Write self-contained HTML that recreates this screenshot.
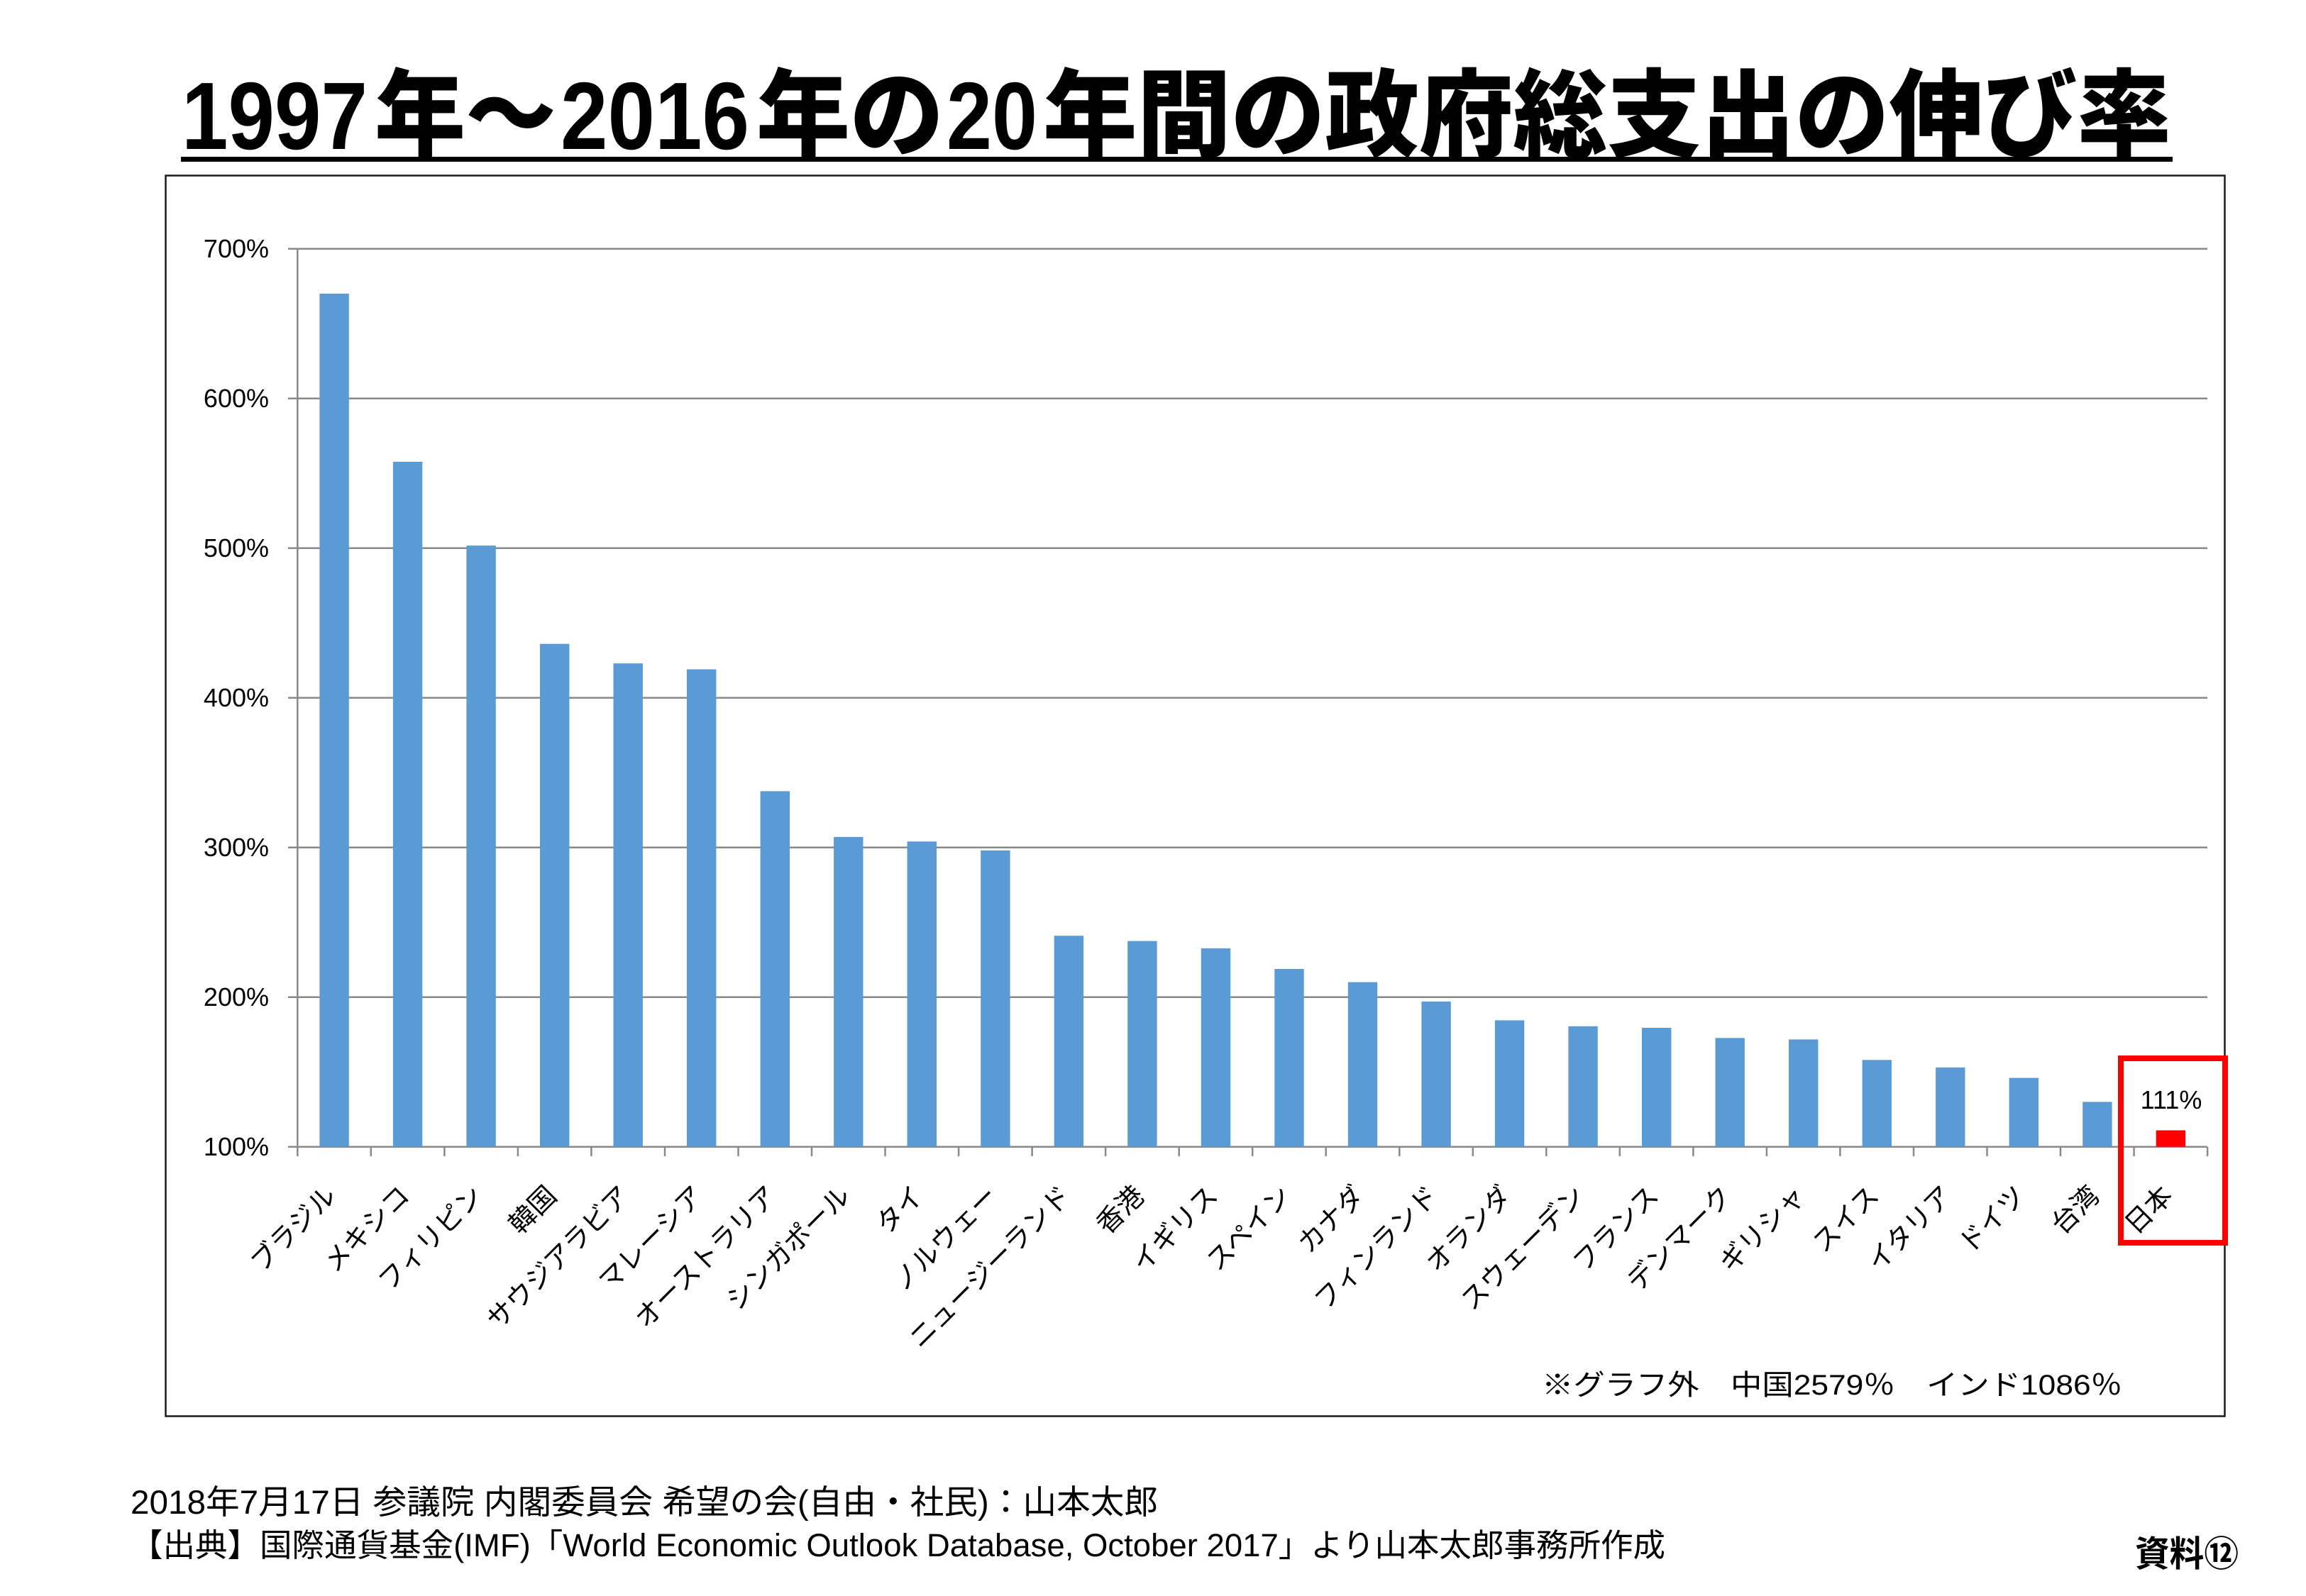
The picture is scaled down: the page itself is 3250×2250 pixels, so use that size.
<!DOCTYPE html>
<html><head><meta charset="utf-8"><style>
html,body{margin:0;padding:0;background:#fff;}
svg{display:block;}
</style></head><body>
<svg xmlns="http://www.w3.org/2000/svg" width="3250" height="2250" viewBox="0 0 3250 2250">
<rect x="0" y="0" width="3250" height="2250" fill="#fff"/>
<!-- Title -->
<g font-family="'Liberation Sans','Noto Sans CJK JP',sans-serif" font-weight="900" font-size="135" fill="#000">
<text x="256" y="210" textLength="262" lengthAdjust="spacingAndGlyphs">1997</text>
<text x="528" y="210" textLength="256" lengthAdjust="spacingAndGlyphs">年～</text>
<text x="790" y="210" textLength="266" lengthAdjust="spacingAndGlyphs">2016</text>
<text x="1066" y="210" textLength="264" lengthAdjust="spacingAndGlyphs">年の</text>
<text x="1334" y="210" textLength="128" lengthAdjust="spacingAndGlyphs">20</text>
<text x="1470" y="210" textLength="1590" lengthAdjust="spacingAndGlyphs">年間の政府総支出の伸び率</text>
</g>
<rect x="255" y="221" width="2807" height="7" fill="#000"/>
<!-- Frame -->
<rect x="233.5" y="247.5" width="2902" height="1749" fill="none" stroke="#1a1a1a" stroke-width="2.5"/>
<!-- Gridlines -->
<g stroke="#898989" stroke-width="2.5">
<line x1="406" y1="350.7" x2="3111" y2="350.7"/>
<line x1="406" y1="561.7" x2="3111" y2="561.7"/>
<line x1="406" y1="772.7" x2="3111" y2="772.7"/>
<line x1="406" y1="983.7" x2="3111" y2="983.7"/>
<line x1="406" y1="1194.7" x2="3111" y2="1194.7"/>
<line x1="406" y1="1405.7" x2="3111" y2="1405.7"/>
<line x1="406" y1="1616.7" x2="3111" y2="1616.7"/>
<line x1="419.3" y1="350.7" x2="419.3" y2="1630"/>
</g>
<!-- x ticks -->
<g stroke="#898989" stroke-width="2.5">
<line x1="522.8" y1="1617" x2="522.8" y2="1630"/>
<line x1="626.4" y1="1617" x2="626.4" y2="1630"/>
<line x1="729.9" y1="1617" x2="729.9" y2="1630"/>
<line x1="833.4" y1="1617" x2="833.4" y2="1630"/>
<line x1="937.0" y1="1617" x2="937.0" y2="1630"/>
<line x1="1040.5" y1="1617" x2="1040.5" y2="1630"/>
<line x1="1144.0" y1="1617" x2="1144.0" y2="1630"/>
<line x1="1247.5" y1="1617" x2="1247.5" y2="1630"/>
<line x1="1351.1" y1="1617" x2="1351.1" y2="1630"/>
<line x1="1454.6" y1="1617" x2="1454.6" y2="1630"/>
<line x1="1558.1" y1="1617" x2="1558.1" y2="1630"/>
<line x1="1661.7" y1="1617" x2="1661.7" y2="1630"/>
<line x1="1765.2" y1="1617" x2="1765.2" y2="1630"/>
<line x1="1868.7" y1="1617" x2="1868.7" y2="1630"/>
<line x1="1972.3" y1="1617" x2="1972.3" y2="1630"/>
<line x1="2075.8" y1="1617" x2="2075.8" y2="1630"/>
<line x1="2179.3" y1="1617" x2="2179.3" y2="1630"/>
<line x1="2282.8" y1="1617" x2="2282.8" y2="1630"/>
<line x1="2386.4" y1="1617" x2="2386.4" y2="1630"/>
<line x1="2489.9" y1="1617" x2="2489.9" y2="1630"/>
<line x1="2593.4" y1="1617" x2="2593.4" y2="1630"/>
<line x1="2697.0" y1="1617" x2="2697.0" y2="1630"/>
<line x1="2800.5" y1="1617" x2="2800.5" y2="1630"/>
<line x1="2904.0" y1="1617" x2="2904.0" y2="1630"/>
<line x1="3007.6" y1="1617" x2="3007.6" y2="1630"/>
<line x1="3111.1" y1="1617" x2="3111.1" y2="1630"/>
</g>
<!-- Bars -->
<g fill="#5B9BD5">
<rect x="450.4" y="414.0" width="41.4" height="1202.7"/>
<rect x="553.9" y="651.0" width="41.4" height="965.7"/>
<rect x="657.4" y="769.1" width="41.4" height="847.6"/>
<rect x="761.0" y="907.7" width="41.4" height="709.0"/>
<rect x="864.5" y="935.2" width="41.4" height="681.5"/>
<rect x="968.0" y="943.6" width="41.4" height="673.1"/>
<rect x="1071.6" y="1115.4" width="41.4" height="501.3"/>
<rect x="1175.1" y="1179.9" width="41.4" height="436.8"/>
<rect x="1278.6" y="1186.3" width="41.4" height="430.4"/>
<rect x="1382.2" y="1198.9" width="41.4" height="417.8"/>
<rect x="1485.7" y="1319.2" width="41.4" height="297.5"/>
<rect x="1589.2" y="1326.6" width="41.4" height="290.1"/>
<rect x="1692.8" y="1336.9" width="41.4" height="279.8"/>
<rect x="1796.3" y="1366.0" width="41.4" height="250.7"/>
<rect x="1899.8" y="1384.6" width="41.4" height="232.1"/>
<rect x="2003.4" y="1412.0" width="41.4" height="204.7"/>
<rect x="2106.9" y="1438.4" width="41.4" height="178.3"/>
<rect x="2210.4" y="1446.8" width="41.4" height="169.9"/>
<rect x="2314.0" y="1449.0" width="41.4" height="167.7"/>
<rect x="2417.5" y="1463.3" width="41.4" height="153.4"/>
<rect x="2521.0" y="1465.4" width="41.4" height="151.3"/>
<rect x="2624.6" y="1494.3" width="41.4" height="122.4"/>
<rect x="2728.1" y="1504.9" width="41.4" height="111.8"/>
<rect x="2831.6" y="1519.6" width="41.4" height="97.1"/>
<rect x="2935.2" y="1553.4" width="41.4" height="63.3"/>
</g>
<rect x="3038.7" y="1593.5" width="41.4" height="23.2" fill="#FF0000"/>
<!-- Y tick labels -->
<g font-family="'Liberation Sans','Noto Sans CJK JP',sans-serif" font-size="36" fill="#000" text-anchor="end">
<text x="379" y="363">700%</text>
<text x="379" y="574">600%</text>
<text x="379" y="785">500%</text>
<text x="379" y="996">400%</text>
<text x="379" y="1207">300%</text>
<text x="379" y="1418">200%</text>
<text x="379" y="1629">100%</text>
</g>
<!-- data label -->
<text x="3060" y="1563" font-family="'Liberation Sans',sans-serif" font-size="36" fill="#000" text-anchor="middle">111%</text>
<!-- X category labels -->
<g font-family="'Liberation Sans','Noto Sans CJK JP',sans-serif" font-size="38" fill="#000" text-anchor="end">
<text transform="translate(476.1,1688) rotate(-45)">ブラジル</text>
<text transform="translate(579.6,1688) rotate(-45)">メキシコ</text>
<text transform="translate(683.1,1688) rotate(-45)">フィリピン</text>
<text transform="translate(786.7,1688) rotate(-45)">韓国</text>
<text transform="translate(890.2,1688) rotate(-45)">サウジアラビア</text>
<text transform="translate(993.7,1688) rotate(-45)">マレーシア</text>
<text transform="translate(1097.3,1688) rotate(-45)">オーストラリア</text>
<text transform="translate(1200.8,1688) rotate(-45)">シンガポール</text>
<text transform="translate(1304.3,1688) rotate(-45)">タイ</text>
<text transform="translate(1407.9,1688) rotate(-45)">ノルウェー</text>
<text transform="translate(1511.4,1688) rotate(-45)">ニュージーランド</text>
<text transform="translate(1614.9,1688) rotate(-45)">香港</text>
<text transform="translate(1718.5,1688) rotate(-45)">イギリス</text>
<text transform="translate(1822.0,1688) rotate(-45)">スペイン</text>
<text transform="translate(1925.5,1688) rotate(-45)">カナダ</text>
<text transform="translate(2029.1,1688) rotate(-45)">フィンランド</text>
<text transform="translate(2132.6,1688) rotate(-45)">オランダ</text>
<text transform="translate(2236.1,1688) rotate(-45)">スウェーデン</text>
<text transform="translate(2339.7,1688) rotate(-45)">フランス</text>
<text transform="translate(2443.2,1688) rotate(-45)">デンマーク</text>
<text transform="translate(2546.7,1688) rotate(-45)">ギリシャ</text>
<text transform="translate(2650.3,1688) rotate(-45)">スイス</text>
<text transform="translate(2753.8,1688) rotate(-45)">イタリア</text>
<text transform="translate(2857.3,1688) rotate(-45)">ドイツ</text>
<text transform="translate(2960.9,1688) rotate(-45)">台湾</text>
<text transform="translate(3064.4,1688) rotate(-45)">日本</text>
</g>
<!-- red highlight box -->
<rect x="2989" y="1492" width="147" height="260" fill="none" stroke="#FF0000" stroke-width="8"/>
<!-- note -->
<text x="2173" y="1966" font-family="'Liberation Sans','Noto Sans CJK JP',sans-serif" font-size="40" fill="#000" textLength="818" lengthAdjust="spacingAndGlyphs">※グラフ外　中国2579％　インド1086％</text>
<!-- footer -->
<g font-family="'Liberation Sans','Noto Sans CJK JP',sans-serif" fill="#000">
<text x="184" y="2134" font-size="47" textLength="1448" lengthAdjust="spacingAndGlyphs">2018年7月17日 参議院 内閣委員会 希望の会(自由・社民)：山本太郎</text>
<text x="184" y="2194" font-size="45" textLength="2163" lengthAdjust="spacingAndGlyphs">【出典】国際通貨基金(IMF)「World Economic Outlook Database, October 2017」より山本太郎事務所作成</text>
<text x="3009" y="2208" font-size="50" font-weight="bold" textLength="146" lengthAdjust="spacingAndGlyphs">資料⑫</text>
</g>
</svg>
</body></html>
